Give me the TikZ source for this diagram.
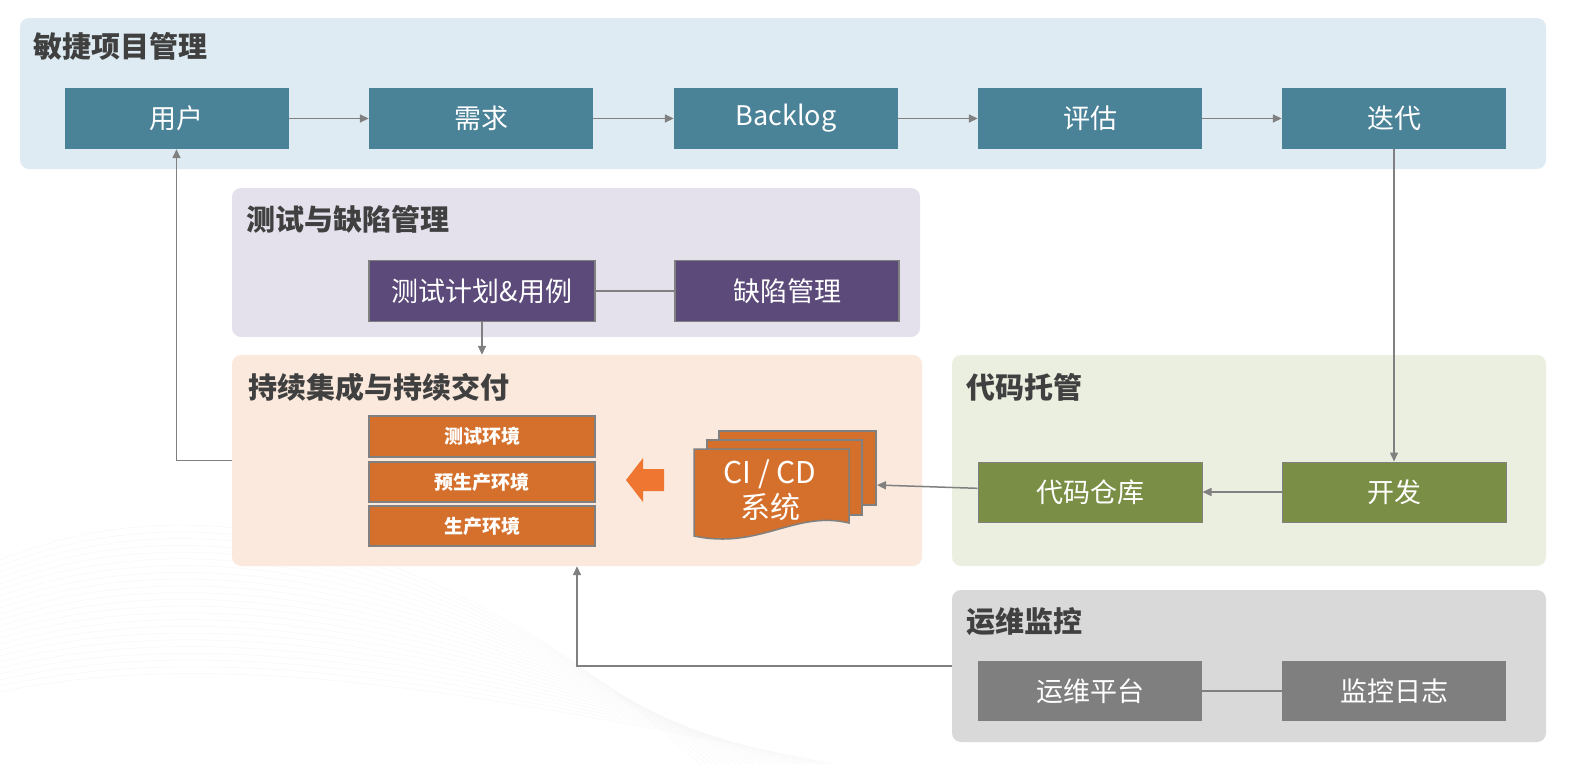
\documentclass[tikz,border=0pt]{standalone}
\usepackage{fontspec}
\setmainfont{Noto Sans CJK SC}
\usetikzlibrary{arrows.meta}

\definecolor{agilebg}{HTML}{DEEBF2}
\definecolor{agilebox}{HTML}{4A8298}
\definecolor{testbg}{HTML}{E4E0EC}
\definecolor{testbox}{HTML}{5B4A7A}
\definecolor{cibg}{HTML}{FAE9DC}
\definecolor{cibox}{HTML}{D4702C}
\definecolor{ciarrow}{HTML}{EE7630}
\definecolor{codebg}{HTML}{EBEFE0}
\definecolor{codebox}{HTML}{7A8F45}
\definecolor{opsbg}{HTML}{D9D9D9}
\definecolor{opsbox}{HTML}{7F7F7F}
\definecolor{linkgray}{HTML}{808080}
\definecolor{headtext}{HTML}{404040}

\tikzset{
  panel/.style={rounded corners=9pt, draw=none, inner sep=0pt},
  heading/.style={anchor=west, inner sep=0pt, text=headtext,
    font=\fontsize{29}{32}\selectfont\bfseries},
  stage/.style={minimum width=224pt, minimum height=61pt, inner sep=0pt,
    text=white, font=\fontsize{27}{30}\selectfont},
  envbox/.style={minimum width=226pt, minimum height=40pt, inner sep=0pt,
    text=white, fill=cibox, draw=linkgray, line width=1.5pt,
    font=\fontsize{19}{22}\selectfont\bfseries},
  link/.style={draw=linkgray, line width=1.5pt, -{Triangle[length=9pt,width=8pt]}},
  bond/.style={draw=linkgray, line width=1.5pt},
}

\begin{document}
\begin{tikzpicture}[x=1pt, y=-1pt]
  \useasboundingbox (0,0) rectangle (1572,764);
  \foreach \k in {0,...,22}
    \draw[black!3, line width=0.5pt] (0,{560+\k*6}) .. controls (220,{470+\k*8}) and (480,{560+\k*6}) .. ({700+\k*6},764);

  \node[panel, fill=agilebg, minimum width=1526pt, minimum height=151pt] (agile) at (783,93.5) {};
  \node[panel, fill=testbg, minimum width=688pt, minimum height=149pt] (test) at (576,262.5) {};
  \node[panel, fill=cibg, minimum width=690pt, minimum height=211pt] (ci) at (577,460.5) {};
  \node[panel, fill=codebg, minimum width=594pt, minimum height=211pt] (code) at (1249,460.5) {};
  \node[panel, fill=opsbg, minimum width=594pt, minimum height=152pt] (ops) at (1249,666) {};

  \node[heading] at (33,46) {敏捷项目管理};
  \node[heading] at (246,219) {测试与缺陷管理};
  \node[heading] at (248,387) {持续集成与持续交付};
  \node[heading] at (966,387) {代码托管};
  \node[heading] at (966,622) {运维监控};

  \node[stage, fill=agilebox] (user) at (176.5,118.5) {用户};
  \node[stage, fill=agilebox] (req) at (481,118.5) {需求};
  \node[stage, fill=agilebox] (backlog) at (786,118.5) {Backlog};
  \node[stage, fill=agilebox] (assess) at (1090,118.5) {评估};
  \node[stage, fill=agilebox] (iter) at (1394,118.5) {迭代};

  \node[stage, fill=testbox, draw=linkgray, line width=1.5pt, minimum width=226pt] (plan) at (482,291) {测试计划\&用例};
  \node[stage, fill=testbox, draw=linkgray, line width=1.5pt] (defect) at (787,291) {缺陷管理};

  \node[envbox, minimum height=41pt] (envtest) at (482,436.5) {测试环境};
  \node[envbox] (envpre) at (482,482) {预生产环境};
  \node[envbox] (envprod) at (482,526) {生产环境};

  \fill[ciarrow] (664,469) -- (643,469) -- (643,458) -- (626,480) -- (643,502) -- (643,491) -- (664,491) -- cycle;

  \filldraw[fill=cibox, draw=linkgray, line width=1.5pt] (719,431) rectangle (876,505);
  \filldraw[fill=cibox, draw=linkgray, line width=1.5pt] (707,440) rectangle (862,515);
  \filldraw[fill=cibox, draw=linkgray, line width=1.5pt] (694,449) -- (849,449) -- (849,523)
    .. controls (795,510) and (760,550) .. (694,536) -- cycle;
  \node[text=white, align=center, inner sep=0pt, font=\fontsize{30}{35}\selectfont] (cicd) at (770,490) {CI / CD\\系统};
  \coordinate (cicdin) at (877,485);

  \node[stage, fill=codebox, draw=linkgray, line width=1pt, minimum height=60pt] (repo) at (1090,492) {代码仓库};
  \node[stage, fill=codebox, draw=linkgray, line width=1pt, minimum height=60pt] (dev) at (1394,492) {开发};

  \node[stage, fill=opsbox, minimum height=60pt] (opsplat) at (1090,691) {运维平台};
  \node[stage, fill=opsbox, minimum height=60pt] (logs) at (1394,691) {监控日志};

  \draw[link] (user) -- (req);
  \draw[link] (req) -- (backlog);
  \draw[link] (backlog) -- (assess);
  \draw[link] (assess) -- (iter);
  \draw[link] (iter) -- (dev);
  \draw[link] (dev) -- (repo);
  \draw[link] (repo) -- (cicdin);
  \draw[bond] (plan) -- (defect);
  \draw[link] (plan.south) -- (plan.south |- ci.north);
  \draw[link] (ci.west) -| (user.south);
  \draw[link] (ops.west) -| (ci.south);
  \draw[bond] (opsplat) -- (logs);
\end{tikzpicture}
\end{document}
